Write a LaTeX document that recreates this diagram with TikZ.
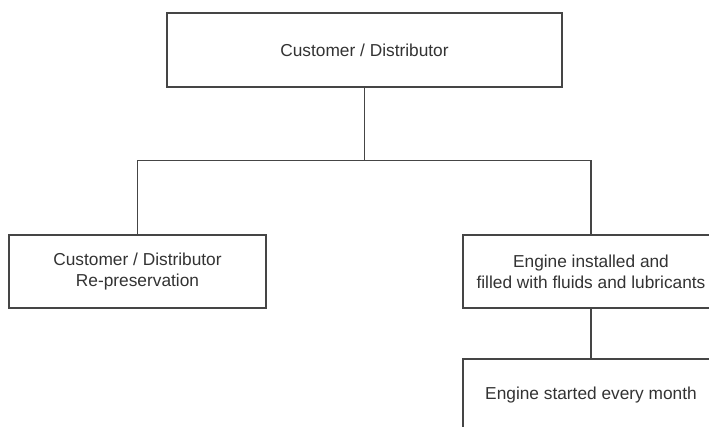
\documentclass[tikz,border=0pt]{standalone}
\usepackage{fontspec}
\setmainfont{Liberation Sans}
\definecolor{linegray}{HTML}{454545}
\definecolor{textgray}{HTML}{333333}
\begin{document}
\begin{tikzpicture}[x=1pt,y=-1pt,
  box/.style={draw=linegray, line width=1.3pt, fill=white, inner sep=0pt,
    align=center, text=textgray, font=\fontsize{17.3}{20.7}\selectfont},
  link/.style={draw=linegray, line width=1.3pt}]
  \clip (0,0) rectangle (709,426);
  \useasboundingbox (0,0) rectangle (709,426);
  \fill[white] (0,0) rectangle (709,426);

  % organisation boxes
  \node[box, minimum width=395pt, minimum height=74pt] (top) at (364.5,50) {Customer / Distributor};
  \node[box, minimum width=257pt, minimum height=73pt] (left) at (137.5,271.5)
    {Customer / Distributor\\Re-preservation};
  \node[box, minimum width=256pt, minimum height=73pt] (right) at (591,271.5)
    {Engine installed and\\filled with fluids and lubricants};
  \node[box, minimum width=256pt, minimum height=72pt] (bottom) at (591,395)
    {Engine started every month};

  % branching connectors
  \coordinate (fork) at (364.5,160.5);
  \draw[link] (top.south) -- (fork);
  \draw[link] (fork) -| (left.north);
  \draw[link] (fork) -| (right.north);
  \draw[link] (right.south) -- (bottom.north);
\end{tikzpicture}
\end{document}
